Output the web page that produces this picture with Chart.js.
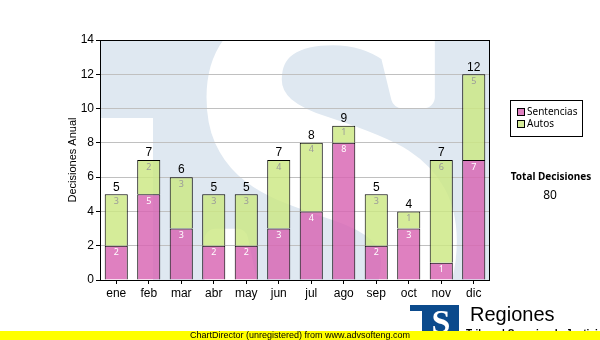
<!DOCTYPE html>
<html><head><meta charset="utf-8">
<script src="https://cdn.jsdelivr.net/npm/chart.js@4/dist/chart.umd.min.js"></script>
<style>html,body{margin:0;padding:0;background:#fff}canvas{display:block}</style>
</head><body>
<canvas id="c" width="600" height="340"></canvas>
<script>
const months = ['ene','feb','mar','abr','may','jun','jul','ago','sep','oct','nov','dic'];
const sentencias = [2,5,3,2,2,3,4,8,2,3,1,7];
const autos = [3,2,3,3,3,4,4,1,3,1,6,5];
const seriesNames = ['Sentencias','Autos'];
const yAxisTitle = 'Decisiones Anual';
const totalTitle = 'Total Decisiones';

const PINK = 'rgba(216,100,178,0.82)';
const GREEN = 'rgba(204,232,130,0.82)';
const totals = months.map((m,i)=>sentencias[i]+autos[i]);
const grandTotal = totals.reduce((a,b)=>a+b,0);

const deco = {
  id:'deco',
  beforeDraw(chart){
    const ctx = chart.ctx, a = chart.chartArea;
    ctx.save();
    ctx.fillStyle = '#fff';
    ctx.fillRect(0,0,chart.width,chart.height);
    ctx.beginPath(); ctx.rect(a.left,a.top,a.right-a.left,a.bottom-a.top); ctx.clip();
    ctx.fillStyle = '#dfe8f1';
    ctx.fillRect(a.left,a.top,a.right-a.left,a.bottom-a.top);
    ctx.fillStyle = '#fff';
    ctx.fillRect(a.left, a.top+78, 53, a.bottom-a.top);
    ctx.font = 'bold 500px "Liberation Serif"';
    ctx.textAlign = 'center'; ctx.textBaseline = 'alphabetic';
    ctx.strokeStyle = '#fff'; ctx.lineWidth = 22; ctx.lineJoin = 'round';
    ctx.fillText('S', a.left+228, a.top+300);
    ctx.strokeText('S', a.left+228, a.top+300);
    ctx.restore();
  },
  afterDatasetsDraw(chart){
    const ctx = chart.ctx;
    ctx.save();
    ctx.textAlign='center'; ctx.textBaseline='middle';
    chart.data.datasets.forEach((ds,di)=>{
      const meta = chart.getDatasetMeta(di);
      meta.data.forEach((bar,i)=>{
        ctx.font = '9px "Noto Sans"';
        ctx.fillStyle = di===0 ? '#ffffff' : '#9a9a9a';
        ctx.fillText(String(ds.data[i]), bar.x, bar.y+7);
        if(di===chart.data.datasets.length-1){
          ctx.font = '12px "Liberation Sans"';
          ctx.fillStyle = '#000';
          ctx.fillText(String(totals[i]), bar.x, bar.y-7);
        }
      });
    });
    ctx.restore();
  },
  afterDraw(chart){
    const ctx = chart.ctx, a = chart.chartArea;
    ctx.save();
    ctx.strokeStyle='#000'; ctx.lineWidth=1;
    ctx.strokeRect(a.left+0.5,a.top+0.5,a.right-a.left-1,a.bottom-a.top);
    ctx.save();
    ctx.translate(73,(a.top+a.bottom)/2);
    ctx.rotate(-Math.PI/2);
    ctx.font='11px "Liberation Sans"'; ctx.fillStyle='#000';
    ctx.textAlign='center'; ctx.textBaseline='middle';
    ctx.fillText(yAxisTitle,0,0);
    ctx.restore();
    ctx.fillStyle='#fff'; ctx.fillRect(510,100,73,36);
    ctx.strokeRect(510.5,100.5,72,36);
    const cols=[PINK,GREEN];
    ctx.font='10px "Noto Sans"'; ctx.textAlign='left'; ctx.textBaseline='middle';
    seriesNames.forEach((n,i)=>{
      const y=112+i*12;
      ctx.fillStyle='#fff'; ctx.fillRect(517,y-4,8,8);
      ctx.fillStyle=cols[i]; ctx.fillRect(517,y-4,8,8);
      ctx.strokeStyle='#000'; ctx.strokeRect(517.5,y-3.5,7,7);
      ctx.fillStyle='#000'; ctx.fillText(n,527,y+0.5);
    });
    ctx.textAlign='center';
    ctx.font='bold 10px "Noto Sans"'; ctx.fillText(totalTitle,551,177);
    ctx.font='12px "Noto Sans"'; ctx.fillText(String(grandTotal),550,196);
    ctx.fillStyle='#0b4a8c'; ctx.fillRect(410,305,49,30);
    ctx.fillStyle='#fff'; ctx.fillRect(410,311,12,24);
    ctx.font='bold 34px "Liberation Serif"'; ctx.textBaseline='alphabetic';
    ctx.fillText('S',441,333);
    ctx.fillStyle='#000'; ctx.textAlign='left';
    ctx.font='20px "Liberation Sans"'; ctx.fillText('Regiones',470,321);
    ctx.font='bold 10px "Liberation Sans"'; ctx.fillText('Tribunal Superior de Justicia',466,337);
    ctx.fillStyle='#ffff00'; ctx.fillRect(0,331,600,9);
    ctx.fillStyle='#000'; ctx.font='9px "Liberation Sans"'; ctx.textAlign='center'; ctx.textBaseline='middle';
    ctx.fillText('ChartDirector (unregistered) from www.advsofteng.com',300,335.5);
    ctx.restore();
  }
};

new Chart(document.getElementById('c'),{
  type:'bar',
  data:{labels:months,datasets:[
    {label:seriesNames[0],data:sentencias,backgroundColor:PINK,borderColor:'#000',borderWidth:1,barPercentage:0.71,categoryPercentage:1},
    {label:seriesNames[1],data:autos,backgroundColor:GREEN,borderColor:'#000',borderWidth:1,barPercentage:0.71,categoryPercentage:1}
  ]},
  options:{
    responsive:false,animation:false,devicePixelRatio:1,
    layout:{padding:{left:0,right:110,top:40,bottom:40}},
    plugins:{legend:{display:false},tooltip:{enabled:false}},
    scales:{
      x:{stacked:true,
        grid:{display:true,drawOnChartArea:false,offset:false,tickLength:4,color:'#000'},
        border:{display:false},
        ticks:{font:{family:'"Liberation Sans"',size:12},color:'#000',padding:2},
        afterFit(s){s.height=20;}},
      y:{stacked:true,min:0,max:14,
        grid:{color:'#c0c0c0',tickColor:'#000',tickLength:4},
        border:{display:false},
        ticks:{stepSize:2,font:{family:'"Liberation Sans"',size:12},color:'#000',padding:2},
        afterFit(s){s.width=100;}}
    }
  },
  plugins:[deco]
});
</script>
</body></html>
